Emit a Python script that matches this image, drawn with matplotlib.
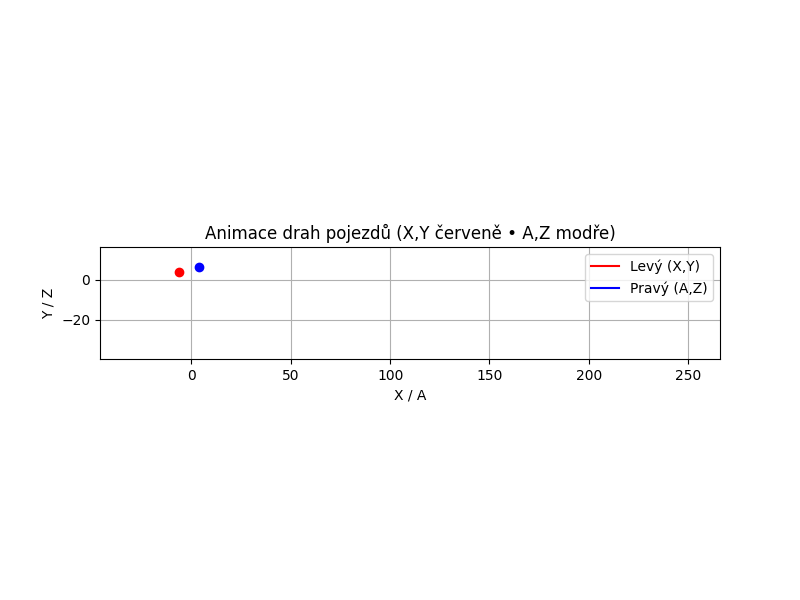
import matplotlib
matplotlib.use("Agg")
import matplotlib.pyplot as plt

left_xy = [(-6.0, 4.0)]
right_az = [(3.8, 6.5)]
xlim = (-46, 266)
ylim = (-39.7, 16.5)

fig, ax = plt.subplots(figsize=(8, 6), dpi=100)
ax.plot([], [], color="red", label="Levý (X,Y)")
ax.plot([], [], color="blue", label="Pravý (A,Z)")
ax.plot([p[0] for p in left_xy], [p[1] for p in left_xy], "o", color="red")
ax.plot([p[0] for p in right_az], [p[1] for p in right_az], "o", color="blue")
ax.set_xlim(*xlim)
ax.set_ylim(*ylim)
ax.set_aspect("equal")
ax.grid(True)
ax.set_xlabel("X / A")
ax.set_ylabel("Y / Z")
ax.set_title("Animace drah pojezdů (X,Y červeně • A,Z modře)")
ax.legend(loc="upper right")
fig.savefig("out.png")
